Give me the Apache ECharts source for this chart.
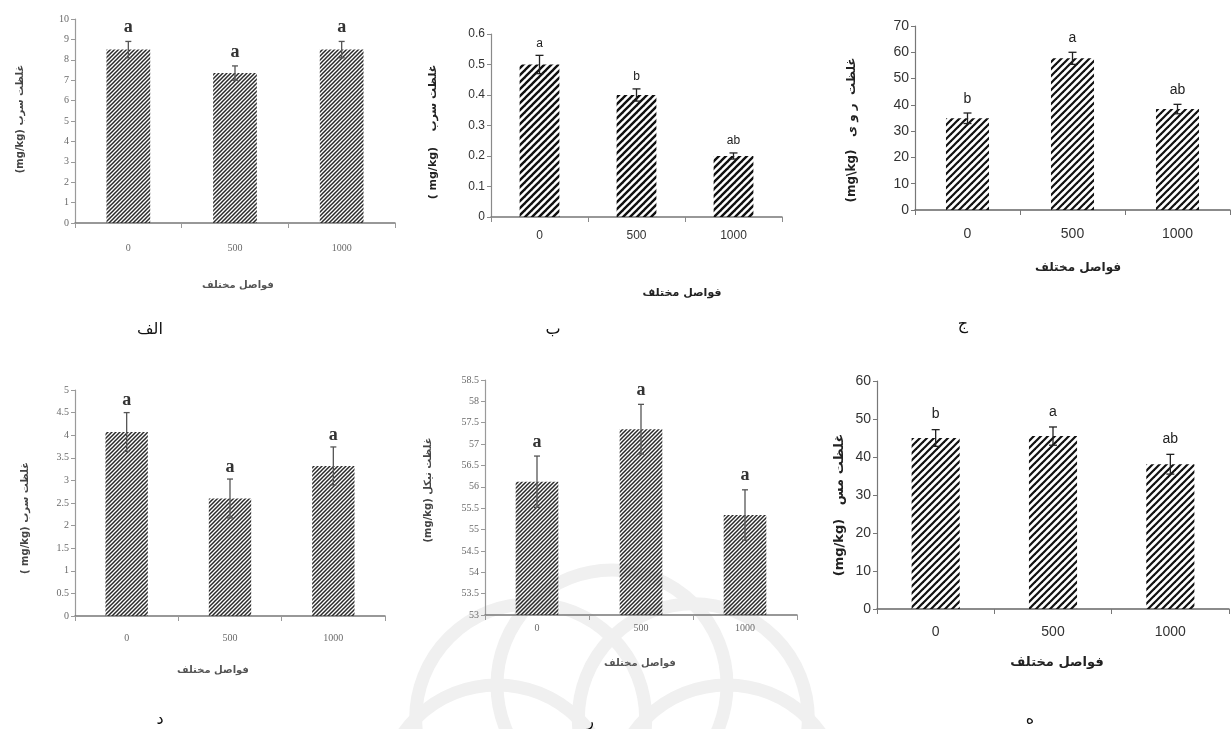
<!DOCTYPE html>
<html>
<head>
<meta charset="utf-8">
<script src="https://cdn.jsdelivr.net/npm/echarts@6/dist/echarts.min.js"></script>
<style>
  html, body { margin: 0; padding: 0; background: #fff; }
  #chart { width: 1231px; height: 729px; }
</style>
</head>
<body>
<div id="chart"></div>
<script>
// Distance classes (m) shared by all six panels
const distances = ['0', '500', '1000'];

// الف — lead
const leadA = [8.5, 7.35, 8.5];
const leadAErr = [0.4, 0.35, 0.4];
const leadASig = ['a', 'a', 'a'];

// ب — lead
const leadB = [0.5, 0.4, 0.2];
const leadBErr = [0.03, 0.02, 0.01];
const leadBSig = ['a', 'b', 'ab'];

// ج — zinc
const zinc = [34.9, 57.7, 38.4];
const zincErr = [2.0, 2.3, 1.8];
const zincSig = ['b', 'a', 'ab'];

// د — lead
const leadD = [4.07, 2.6, 3.32];
const leadDErr = [0.43, 0.43, 0.42];
const leadDSig = ['a', 'a', 'a'];

// ر — nickel
const nickel = [56.12, 57.35, 55.34];
const nickelErr = [0.6, 0.58, 0.59];
const nickelSig = ['a', 'a', 'a'];

// ه — copper
const copper = [45.0, 45.5, 38.1];
const copperErr = [2.2, 2.4, 2.6];
const copperSig = ['b', 'a', 'ab'];

// diagonal "/" hatch used as bar fill
function hatch(size, lw, color) {
  const c = document.createElement('canvas');
  c.width = size; c.height = size;
  const g = c.getContext('2d');
  g.strokeStyle = color;
  g.lineWidth = lw;
  g.lineCap = 'square';
  for (let k = -1; k <= 1; k++) {
    g.beginPath();
    g.moveTo(k * size, size);
    g.lineTo(k * size + size, 0);
    g.stroke();
  }
  return c;
}

const NARROW = '"Liberation Sans Narrow", "Arial Narrow", "Liberation Sans", sans-serif';

const SOFT = {
  hatch: hatch(4, 1.5, '#2a2a2a'),
  axis: '#9a9a9a', xAxis: '#777', label: '#6a6a6a', labelFont: 'Liberation Serif', labelSize: 10,
  sigFont: 'Liberation Serif', sigSize: 18, sigWeight: 'bold', sigColor: '#333',
  err: '#555', cap: 3
};
const CRISP_SMALL = {
  hatch: hatch(7, 2.4, '#111'),
  axis: '#8a8a8a', xAxis: '#777', label: '#333', labelFont: NARROW, labelSize: 12,
  sigFont: NARROW, sigSize: 12, sigWeight: 'normal', sigColor: '#222',
  err: '#222', cap: 4
};
const CRISP = {
  hatch: hatch(7, 2.2, '#111'),
  axis: '#777', xAxis: '#666', label: '#333', labelFont: NARROW, labelSize: 14,
  sigFont: NARROW, sigSize: 14, sigWeight: 'normal', sigColor: '#222',
  err: '#222', cap: 4
};

const panels = [
  { mean: leadA, err: leadAErr, sig: leadASig, style: SOFT,
    grid: { left: 75, top: 19, width: 320, height: 204 },
    min: 0, max: 10, interval: 1, labelMargin: 20, sigGap: 14 },
  { mean: leadB, err: leadBErr, sig: leadBSig, style: CRISP_SMALL,
    grid: { left: 491, top: 34, width: 291, height: 183 },
    min: 0, max: 0.6, interval: 0.1, labelMargin: 13, sigGap: 12 },
  { mean: zinc, err: zincErr, sig: zincSig, style: CRISP,
    grid: { left: 915, top: 26, width: 315, height: 184 },
    min: 0, max: 70, interval: 10, labelMargin: 17, sigGap: 14 },
  { mean: leadD, err: leadDErr, sig: leadDSig, style: SOFT,
    grid: { left: 75, top: 390, width: 310, height: 226 },
    min: 0, max: 5, interval: 0.5, labelMargin: 17, sigGap: 12 },
  { mean: nickel, err: nickelErr, sig: nickelSig, style: SOFT,
    grid: { left: 485, top: 380, width: 312, height: 235 },
    min: 53, max: 58.5, interval: 0.5, labelMargin: 8, sigGap: 14 },
  { mean: copper, err: copperErr, sig: copperSig, style: CRISP,
    grid: { left: 877, top: 381, width: 352, height: 228 },
    min: 0, max: 60, interval: 10, labelMargin: 16, sigGap: 15 }
];

const grid = [], xAxis = [], yAxis = [], series = [];
panels.forEach((p, i) => {
  const s = p.style;
  grid.push(Object.assign({ containLabel: false }, p.grid));
  xAxis.push({
    type: 'category', gridIndex: i, data: distances,
    axisLine: { lineStyle: { color: s.xAxis, width: 1.5 } },
    axisTick: { show: true, length: 5, lineStyle: { color: s.axis } },
    axisLabel: { color: s.label, fontFamily: s.labelFont, fontSize: s.labelSize, margin: p.labelMargin }
  });
  yAxis.push({
    type: 'value', gridIndex: i, min: p.min, max: p.max, interval: p.interval,
    axisLine: { show: true, lineStyle: { color: s.axis, width: 1.2 } },
    axisTick: { show: true, length: 4, lineStyle: { color: s.axis } },
    splitLine: { show: false },
    axisLabel: { color: s.label, fontFamily: s.labelFont, fontSize: s.labelSize, margin: 6 }
  });
  series.push({
    type: 'bar', xAxisIndex: i, yAxisIndex: i, data: p.mean,
    barWidth: '41%', clip: true, silent: true,
    itemStyle: { color: { image: s.hatch, repeat: 'repeat' } }
  });
  series.push({
    type: 'custom', xAxisIndex: i, yAxisIndex: i, silent: true, z: 5,
    data: p.mean.map((m, k) => [k, m, p.err[k], p.sig[k]]),
    renderItem: function (params, api) {
      const k = api.value(0), m = api.value(1), e = api.value(2);
      const top = api.coord([k, m + e]);
      const bot = api.coord([k, m - e]);
      const c = s.cap;
      const ls = { stroke: s.err, lineWidth: 1.3 };
      return {
        type: 'group',
        children: [
          { type: 'line', shape: { x1: top[0], y1: top[1], x2: bot[0], y2: bot[1] }, style: ls },
          { type: 'line', shape: { x1: top[0] - c, y1: top[1], x2: top[0] + c, y2: top[1] }, style: ls },
          { type: 'line', shape: { x1: bot[0] - c, y1: bot[1], x2: bot[0] + c, y2: bot[1] }, style: ls },
          { type: 'text', style: {
              x: top[0], y: top[1] - p.sigGap, text: p.sig[k],
              align: 'center', verticalAlign: 'middle',
              fill: s.sigColor, fontFamily: s.sigFont, fontSize: s.sigSize, fontWeight: s.sigWeight
          } }
        ]
      };
    }
  });
});

// axis titles, rotated y titles and panel captions
function txt(x, y, text, size, opts) {
  return Object.assign({
    type: 'text', x: x, y: y, silent: true, z: 10,
    style: Object.assign({
      text: text, align: 'center', verticalAlign: 'middle',
      fontFamily: 'DejaVu Sans', fontSize: size, fontWeight: 'bold', fill: '#222'
    }, (opts && opts.style) || {})
  }, (opts && opts.el) || {});
}
const ROT = { el: { rotation: Math.PI / 2 } };
const xTitle = 'فواصل مختلف';
const CAP = { style: { fontFamily: 'DejaVu Serif, DejaVu Sans', fontWeight: 'normal', fill: '#111' } };

// faint rosette emblem behind the lower middle panel
const rosette = [];
for (let k = 0; k < 8; k++) {
  const a = k * Math.PI / 4;
  rosette.push({
    type: 'circle', silent: true, z: -5,
    shape: { cx: 612 + 115 * Math.cos(a), cy: 800 + 115 * Math.sin(a), r: 115 },
    style: { fill: 'none', stroke: '#f0f0f0', lineWidth: 13 }
  });
}

const graphic = rosette.concat([
  // x titles
  txt(238, 285, xTitle, 10, { style: { fill: '#555' } }),
  txt(682, 293, xTitle, 11),
  txt(1078, 268, xTitle, 12),
  txt(213, 670, xTitle, 10, { style: { fill: '#555' } }),
  txt(640, 663, xTitle, 10, { style: { fill: '#555' } }),
  txt(1057, 663, xTitle, 13),
  // y titles
  txt(20, 119, '(mg/kg) غلظت سرب', 10, { el: ROT.el, style: { fill: '#444' } }),
  txt(433, 132, '( mg/kg)    غلظت سرب', 11, ROT),
  txt(852, 130, '(mg\\kg)   غلظت  ر و ی', 12, ROT),
  txt(25, 518, '( mg/kg) غلظت سرب', 10, { el: ROT.el, style: { fill: '#444' } }),
  txt(428, 490, '(mg/kg) غلظت نیکل', 10, { el: ROT.el, style: { fill: '#444' } }),
  txt(840, 505, '(mg/kg)   غلظت مس', 13, ROT),
  // panel captions
  txt(150, 330, 'الف', 16, CAP),
  txt(553, 330, 'ب', 16, CAP),
  txt(963, 325, 'ج', 16, CAP),
  txt(160, 720, 'د', 16, CAP),
  txt(590, 722, 'ر', 16, CAP),
  txt(1030, 720, 'ه', 16, CAP)
]);

const chart = echarts.init(document.getElementById('chart'), null, { renderer: 'canvas' });
chart.setOption({
  animation: false,
  backgroundColor: '#fff',
  grid: grid, xAxis: xAxis, yAxis: yAxis, series: series, graphic: graphic
});
</script>
</body>
</html>
